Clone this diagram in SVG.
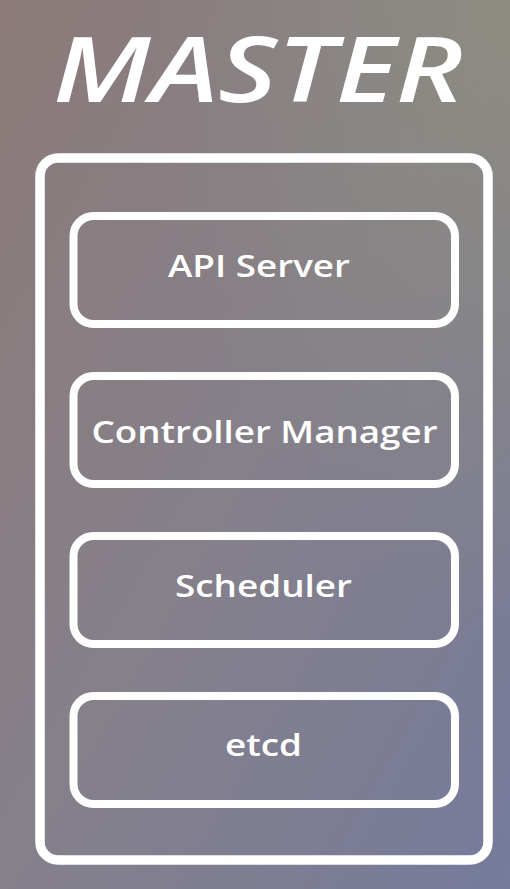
<svg xmlns="http://www.w3.org/2000/svg" width="510" height="889" viewBox="0 0 510 889">
  <defs>
    <linearGradient id="bg" x1="0" y1="0" x2="1" y2="1">
      <stop offset="0" stop-color="#8c7b79"/>
      <stop offset="0.5" stop-color="#85808a"/>
      <stop offset="1" stop-color="#767b9c"/>
    </linearGradient>
    <radialGradient id="tr" cx="1" cy="0" r="0.7">
      <stop offset="0" stop-color="#8e8d80" stop-opacity="0.9"/>
      <stop offset="1" stop-color="#8e8d80" stop-opacity="0"/>
    </radialGradient>
    <style>
      .box { fill: none; stroke: #ffffff; stroke-width: 8; }
      .outer { fill: none; stroke: #ffffff; stroke-width: 9.5; }
      .lbl { font-family: "Open Sans", "Liberation Sans", sans-serif; font-size: 31px; font-weight: 600; fill: #ffffff; text-anchor: middle; }
      .title { font-family: "Open Sans", "Liberation Sans", sans-serif; font-size: 90px; font-weight: 600; font-style: italic; fill: #ffffff; text-anchor: middle; }
    </style>
  </defs>
  <rect x="0" y="0" width="510" height="889" fill="url(#bg)"/>
  <rect x="0" y="0" width="510" height="889" fill="url(#tr)"/>

  <g id="title">
    <text class="title" x="258" y="102" textLength="410" lengthAdjust="spacingAndGlyphs">MASTER</text>
  </g>

  <g id="master">
    <rect class="outer" x="40" y="158" width="448" height="702" rx="18"/>
  </g>

  <g id="api-server">
    <rect class="box" x="73.5" y="216" width="381.5" height="108" rx="20"/>
    <text class="lbl" x="259" y="277" textLength="182" lengthAdjust="spacingAndGlyphs">API Server</text>
  </g>
  <g id="controller-manager">
    <rect class="box" x="73.5" y="376" width="381.5" height="108" rx="20"/>
    <text class="lbl" x="264.5" y="443" textLength="346" lengthAdjust="spacingAndGlyphs">Controller Manager</text>
  </g>
  <g id="scheduler">
    <rect class="box" x="73.5" y="536" width="381.5" height="108" rx="20"/>
    <text class="lbl" x="263.5" y="597" textLength="177" lengthAdjust="spacingAndGlyphs">Scheduler</text>
  </g>
  <g id="etcd">
    <rect class="box" x="73.5" y="696" width="381.5" height="108" rx="20"/>
    <text class="lbl" x="263.5" y="756" textLength="77" lengthAdjust="spacingAndGlyphs">etcd</text>
  </g>
  <g id="connectors"/>
</svg>
